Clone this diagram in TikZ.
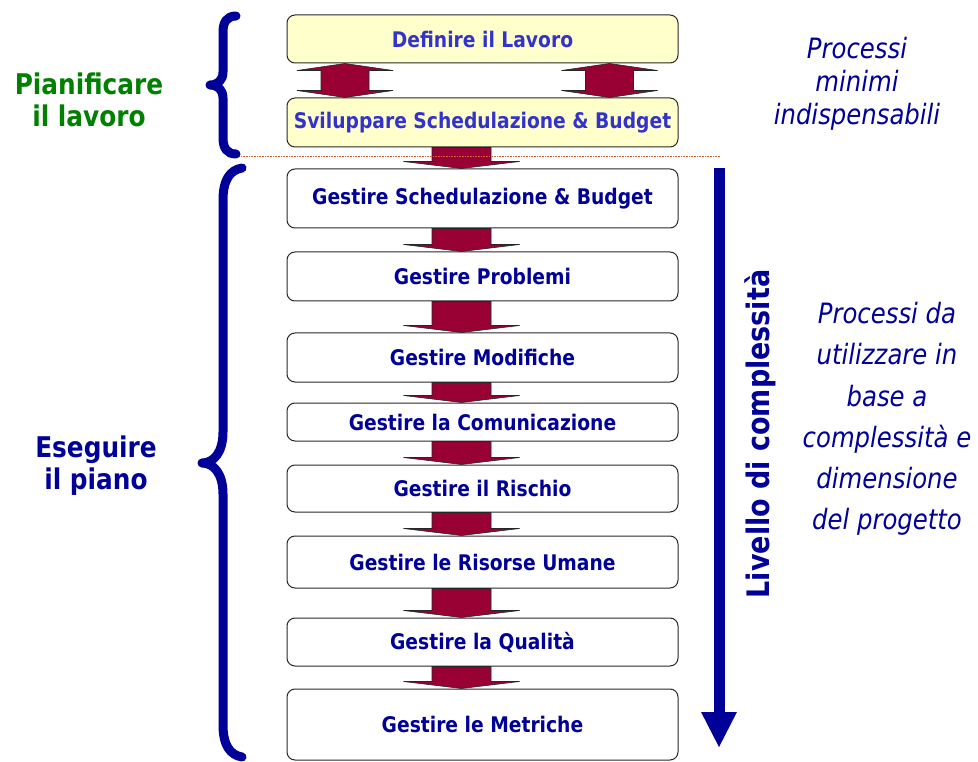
\documentclass[tikz,border=0pt]{standalone}
\usepackage{fontspec}
\setmainfont[FakeStretch=0.87]{DejaVu Sans}
\usetikzlibrary{calc,arrows.meta}
\definecolor{processNavy}{RGB}{0,0,153}
\definecolor{processBlue}{RGB}{51,51,204}
\definecolor{processYellow}{RGB}{255,255,204}
\definecolor{processMaroon}{RGB}{153,0,51}
\definecolor{processGreen}{RGB}{0,128,0}
\definecolor{processEdge}{RGB}{40,40,40}
\definecolor{processRule}{RGB}{204,102,51}

\begin{document}
\begin{tikzpicture}[x=1pt, y=-1pt]
    \tikzstyle{task} = [draw=processEdge, line width=1pt, fill=white, rounded corners=8pt, minimum width=391pt, inner sep=0pt, text=processNavy, font=\bfseries\fontsize{21.5}{24}\selectfont]
    \tikzstyle{plan} = [task, fill=processYellow, text=processBlue]
    \tikzstyle{blockarrow} = [draw=black!85, fill=processMaroon, line width=0.6pt]
    \tikzstyle{brace} = [draw=processNavy, line width=9pt, line cap=round, line join=round]
    \tikzstyle{phase} = [align=center, font=\bfseries\fontsize{28.5}{32}\selectfont]
    \tikzstyle{note} = [align=center, text=processNavy, font=\itshape\fontsize{28}{33}\selectfont]

    \useasboundingbox (0,0) rectangle (978,762);

    \node[plan, minimum height=48pt] (define) at (482.5,39) {Definire il Lavoro};
    \node[plan, minimum height=49pt] (develop) at (482.5,122.5) {Sviluppare Schedulazione \& Budget};
    \node[task, minimum height=59pt] (schedule) at (482.5,198.5) {Gestire Schedulazione \& Budget};
    \node[task, minimum height=49pt] (issues) at (482.5,276.5) {Gestire Problemi};
    \node[task, minimum height=49pt] (changes) at (482.5,357.5) {Gestire Modifiche};
    \node[task, minimum height=38pt] (comms) at (482.5,422) {Gestire la Comunicazione};
    \node[task, minimum height=47pt] (risk) at (482.5,488.5) {Gestire il Rischio};
    \node[task, minimum height=52pt] (people) at (482.5,562) {Gestire le Risorse Umane};
    \node[task, minimum height=48pt] (quality) at (482.5,642) {Gestire la Qualità};
    \node[task, minimum height=71pt] (metrics) at (482.5,724.5) {Gestire le Metriche};

    % two-way arrows between the planning steps
    \foreach \dx in {-137.5pt, 127pt}
        \draw[blockarrow] let \p1=(define.south), \p2=(develop.north) in
            (\x1+\dx,\y1) -- (\x1+\dx+48pt,\y1-7pt) -- (\x1+\dx+24pt,\y1-7pt) -- (\x1+\dx+24pt,\y2+7pt)
            -- (\x1+\dx+48pt,\y2+7pt) -- (\x1+\dx,\y2) -- (\x1+\dx-48pt,\y2+7pt) -- (\x1+\dx-24pt,\y2+7pt)
            -- (\x1+\dx-24pt,\y1-7pt) -- (\x1+\dx-48pt,\y1-7pt) -- cycle;

    % one-way arrows down the chain
    \foreach \a/\b in {develop/schedule, schedule/issues, issues/changes, changes/comms, comms/risk, risk/people, people/quality, quality/metrics}
        \draw[blockarrow] let \p1=(\a.south), \p2=(\b.north) in
            (\x1-50.5pt,\y1) -- (\x1+8.5pt,\y1) -- (\x1+8.5pt,\y2+7pt) -- (\x1+37pt,\y2+7pt)
            -- (\x1-21pt,\y2) -- (\x1-79pt,\y2+7pt) -- (\x1-50.5pt,\y2+7pt) -- cycle;

    \draw[processRule, line width=1pt, dash pattern=on 1pt off 0.6pt] (233,157) -- (720,157);

    % braces
    \draw[brace] (236,16) .. controls (227,16) and (223,22) .. (223,32) -- (223,72)
        .. controls (223,80) and (218,85) .. (210,85) .. controls (218,85) and (223,90) .. (223,98)
        -- (223,138) .. controls (223,148) and (227,154) .. (236,154);
    \draw[brace] (242,168) .. controls (230,170) and (223,180) .. (223,200) -- (223,432)
        .. controls (223,452) and (214,463) .. (202,463) .. controls (214,463) and (223,474) .. (223,494)
        -- (223,725) .. controls (223,745) and (230,755) .. (242,757);

    \node[phase, text=processGreen] (planning) at (89,100) {Pianificare\\il lavoro};
    \node[phase, text=processNavy] (executing) at (96,466) {Eseguire\\il piano};

    \node[note] (minimal) at (857,84) {Processi\\minimi\\indispensabili};
    \node[note, font=\itshape\fontsize{28}{41.2}\selectfont] (optional) at (887,419)
        {Processi da\\utilizzare in\\base a\\complessità e\\dimensione\\del progetto};

    % complexity scale
    \coordinate (scaletop) at (719,168);
    \coordinate (scalebottom) at (719,748);
    \draw[processNavy, line width=11pt, -{Triangle[width=33pt, length=36pt]}] (scaletop) -- (scalebottom);
    \node[rotate=90, text=processNavy, font=\bfseries\fontsize{31}{34}\selectfont] (level) at (760,434) {Livello di complessità};
\end{tikzpicture}
\end{document}
